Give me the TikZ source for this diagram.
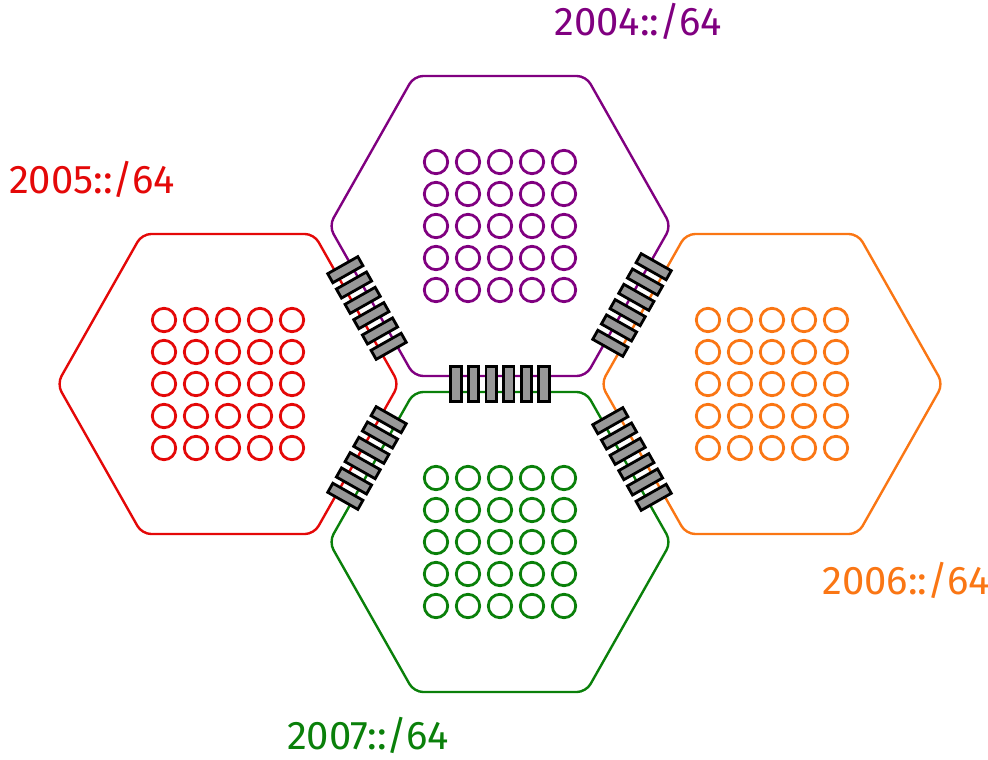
\documentclass[tikz,border=0pt]{standalone}
\usepackage{fontspec}
\setmainfont{Fira Sans}
\definecolor{netpurple}{RGB}{128,0,128}
\definecolor{netred}{RGB}{228,8,8}
\definecolor{netorange}{RGB}{250,118,20}
\definecolor{netgreen}{RGB}{10,128,10}
\definecolor{portgray}{RGB}{152,152,152}
\begin{document}
\begin{tikzpicture}[x=1pt,y=-1pt,
  cellpath/.style={line width=2.4pt, rounded corners=9pt},
  host/.style={circle, line width=2.8pt, minimum size=23.4pt, inner sep=0pt},
  port/.style={draw=black, fill=portgray, line width=2.8pt,
    minimum width=10.4pt, minimum height=34.6pt, inner sep=0pt, transform shape},
  netlabel/.style={font=\fontsize{40}{44}\selectfont, anchor=base, inner sep=0pt}]
\useasboundingbox (0,0) rectangle (988,760);

% four hexagonal cells, each with a 5x5 block of hosts
\foreach \n/\cx/\cy/\col in {p/500/226/netpurple, r/228/384/netred,
                             o/772/384/netorange, g/500/542/netgreen} {
  \draw[cellpath, draw=\col] (\cx,\cy-150) -- (\cx+86,\cy-150) -- (\cx+171,\cy)
    -- (\cx+86,\cy+150) -- (\cx-86,\cy+150) -- (\cx-171,\cy)
    -- (\cx-86,\cy-150) -- cycle;
  \foreach \i in {1,...,5}
    \foreach \j in {1,...,5}
      \node[host, draw=\col] (\n-\i-\j) at ({\cx+32*(\i-3)}, {\cy+32*(\j-3)}) {};
}

% links between neighbouring cells: six ports each
\foreach \n/\x/\y/\a in {pg/500/384/0, rp/367/308/-60.5, po/632/305/60.5,
                         rg/367/458/60.5, go/632/459/-60.5} {
  \begin{scope}[shift={(\x,\y)}, rotate=\a]
    \foreach \k in {1,...,6}
      \node[port] (\n\k) at ({(\k-3.5)*17.6}, 0) {};
  \end{scope}
}

% network prefixes
\node[netlabel, text=netpurple] (lbl-p) at (638,36) {2004::/64};
\node[netlabel, text=netred]    (lbl-r) at (92,193) {2005::/64};
\node[netlabel, text=netorange] (lbl-o) at (906,594) {2006::/64};
\node[netlabel, text=netgreen]  (lbl-g) at (368,749) {2007::/64};
\end{tikzpicture}
\end{document}
